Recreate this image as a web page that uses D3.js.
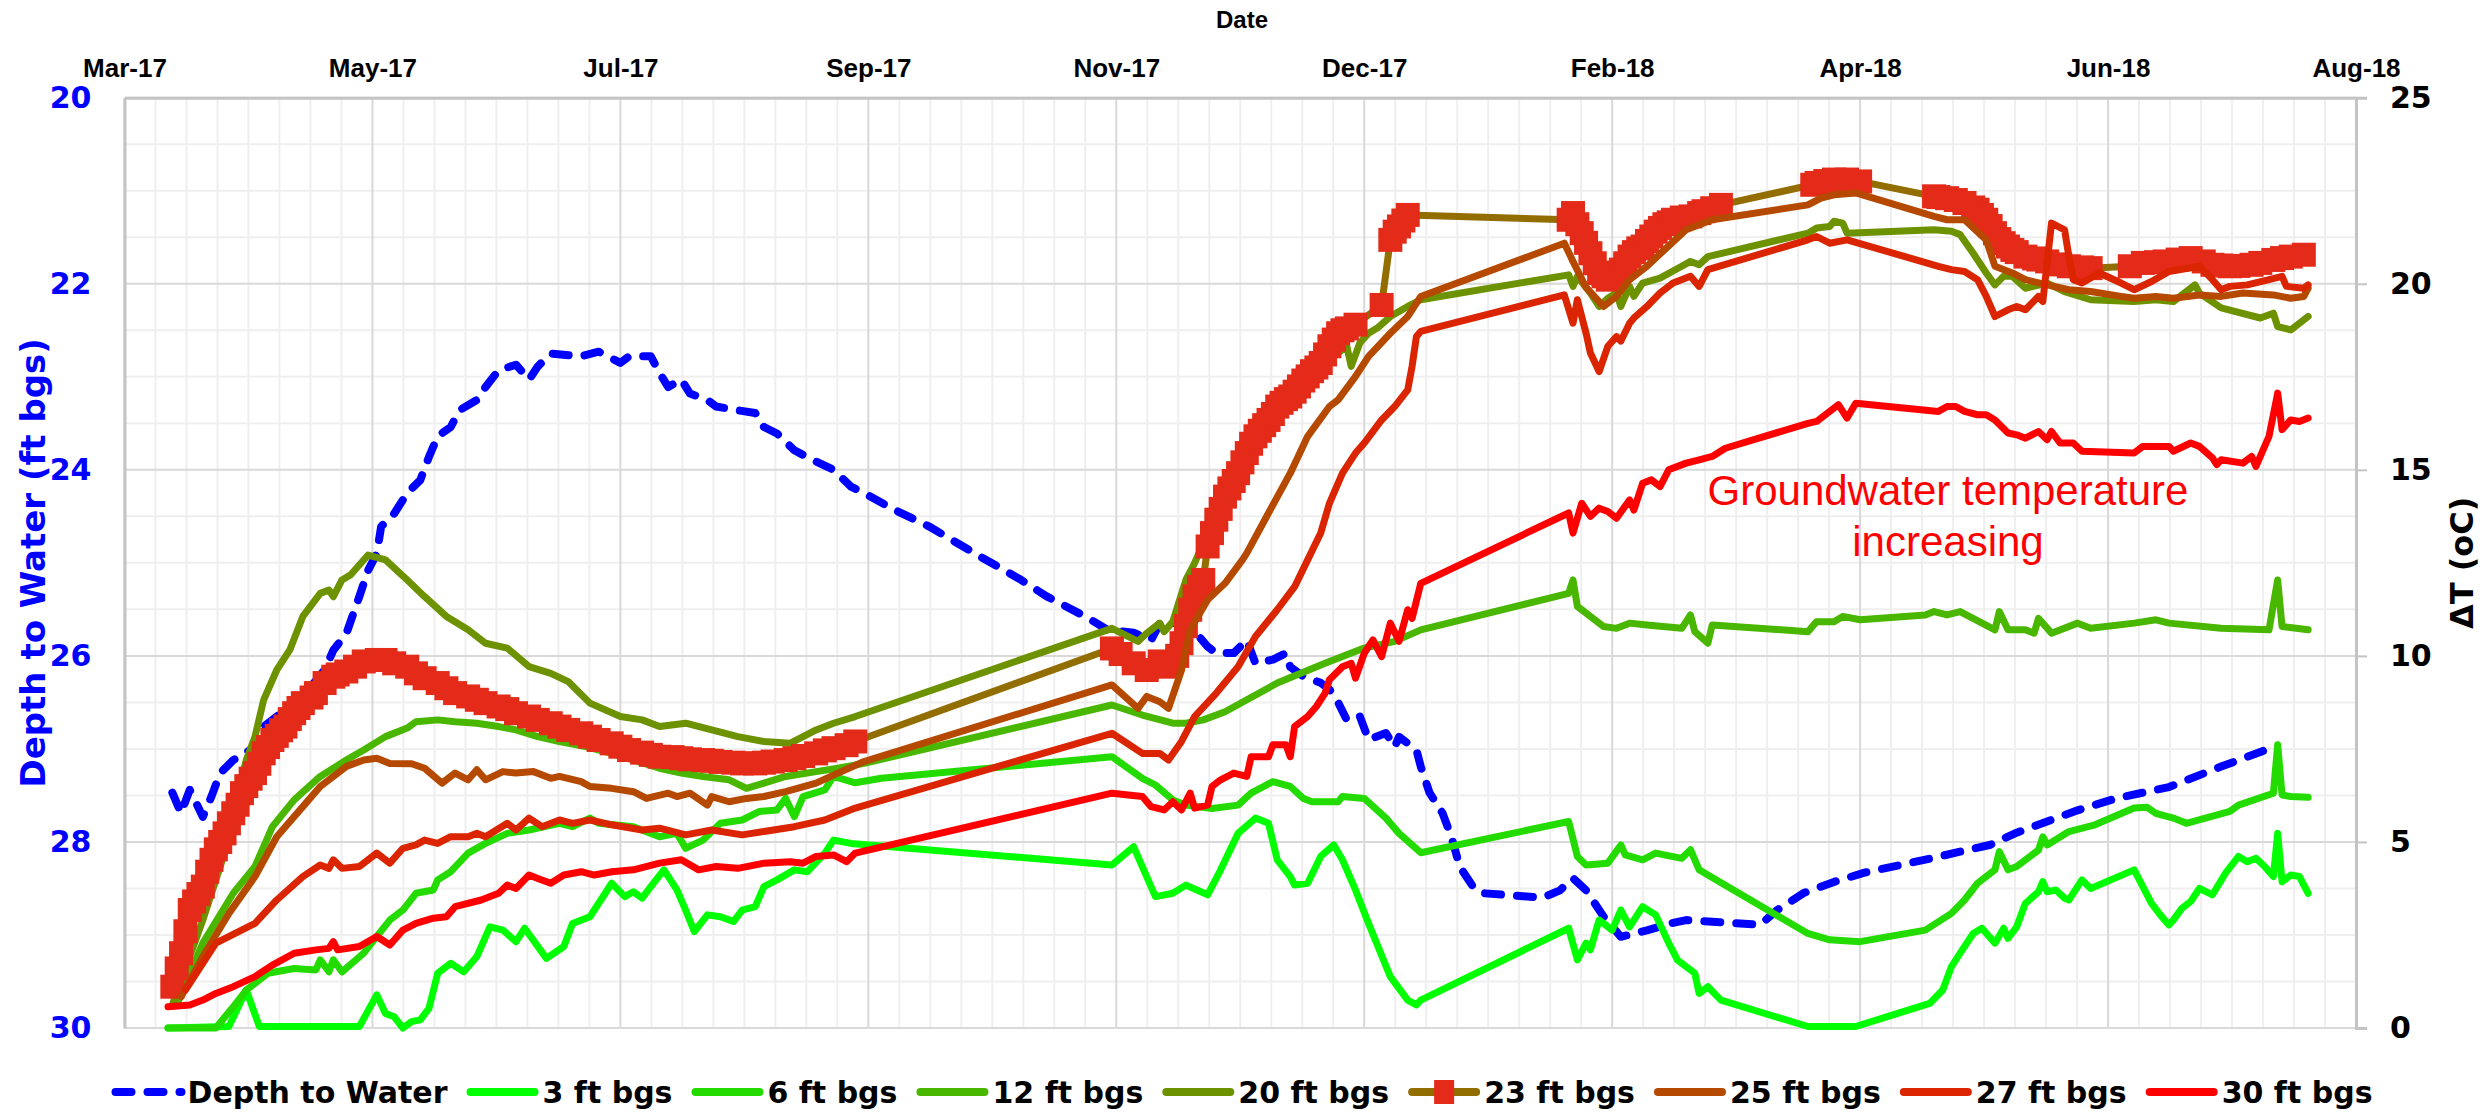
<!DOCTYPE html>
<html>
<head>
<meta charset="utf-8">
<script src="https://cdn.jsdelivr.net/npm/d3@7"></script>
<style>
  body { margin: 0; background: #fff; }
  svg { display: block; }
</style>
</head>
<body>
<svg id="chart" width="2491" height="1114"></svg>
<script>
// ---- data ----
var xTickDates = ["2017-03-18","2017-05-14","2017-07-10","2017-09-05","2017-11-01","2017-12-28","2018-02-23","2018-04-21","2018-06-17","2018-08-13"];
var depthTicks = [20, 22, 24, 26, 28, 30];
var tempTicks = [0, 5, 10, 15, 20, 25];

var depthToWater = [["2017-03-29",27.47],["2017-03-31",27.69],["2017-04-02",27.44],["2017-04-05",27.73],["2017-04-07",27.51],["2017-04-09",27.26],["2017-04-12",27.12],["2017-04-17",26.98],["2017-04-19",26.76],["2017-04-24",26.58],["2017-04-28",26.44],["2017-05-03",26.15],["2017-05-05",25.94],["2017-05-08",25.76],["2017-05-11",25.36],["2017-05-13",25.08],["2017-05-15",24.90],["2017-05-16",24.61],["2017-05-19",24.47],["2017-05-22",24.25],["2017-05-25",24.11],["2017-05-27",23.86],["2017-05-29",23.64],["2017-06-01",23.54],["2017-06-03",23.36],["2017-06-07",23.25],["2017-06-09",23.11],["2017-06-12",22.93],["2017-06-16",22.87],["2017-06-19",23.03],["2017-06-21",22.89],["2017-06-24",22.75],["2017-07-01",22.78],["2017-07-05",22.73],["2017-07-10",22.85],["2017-07-12",22.78],["2017-07-17",22.78],["2017-07-19",22.96],["2017-07-21",23.11],["2017-07-24",23.03],["2017-07-26",23.18],["2017-07-30",23.25],["2017-08-01",23.32],["2017-08-06",23.36],["2017-08-10",23.39],["2017-08-12",23.54],["2017-08-15",23.61],["2017-08-19",23.79],["2017-08-23",23.89],["2017-08-28",24.00],["2017-09-01",24.18],["2017-09-04",24.25],["2017-09-11",24.43],["2017-09-19",24.61],["2017-10-01",24.94],["2017-10-10",25.18],["2017-10-16",25.36],["2017-10-25",25.58],["2017-10-30",25.72],["2017-11-05",25.75],["2017-11-09",25.83],["2017-11-11",25.65],["2017-11-17",25.65],["2017-11-20",25.79],["2017-11-22",25.90],["2017-11-24",25.97],["2017-11-28",25.97],["2017-12-01",25.83],["2017-12-03",26.08],["2017-12-07",26.04],["2017-12-10",25.97],["2017-12-11",26.12],["2017-12-14",26.22],["2017-12-18",26.29],["2017-12-20",26.36],["2017-12-22",26.50],["2017-12-24",26.69],["2017-12-27",26.65],["2017-12-29",26.90],["2018-01-02",26.83],["2018-01-04",26.98],["2018-01-05",26.87],["2018-01-09",27.01],["2018-01-10",27.19],["2018-01-12",27.47],["2018-01-15",27.69],["2018-01-17",27.94],["2018-01-19",28.27],["2018-01-22",28.48],["2018-01-24",28.55],["2018-02-07",28.60],["2018-02-11",28.52],["2018-02-14",28.39],["2018-02-17",28.52],["2018-02-21",28.80],["2018-02-25",29.02],["2018-03-03",28.95],["2018-03-09",28.87],["2018-03-12",28.84],["2018-03-29",28.89],["2018-04-02",28.73],["2018-04-08",28.55],["2018-04-15",28.43],["2018-04-22",28.33],["2018-05-06",28.19],["2018-05-21",28.03],["2018-05-27",27.90],["2018-06-03",27.78],["2018-06-10",27.66],["2018-06-19",27.53],["2018-07-01",27.41],["2018-07-13",27.19],["2018-07-25",26.98]];

var t3ft = [["2017-03-28",0],["2017-04-11",0.04],["2017-04-15",1.02],["2017-04-18",0.04],["2017-05-11",0.04],["2017-05-15",0.89],["2017-05-17",0.39],["2017-05-19",0.30],["2017-05-21",0],["2017-05-23",0.17],["2017-05-25",0.22],["2017-05-27",0.53],["2017-05-29",1.47],["2017-06-01",1.74],["2017-06-04",1.51],["2017-06-07",1.92],["2017-06-10",2.72],["2017-06-13",2.63],["2017-06-16",2.32],["2017-06-18",2.68],["2017-06-23",1.87],["2017-06-27",2.19],["2017-06-29",2.81],["2017-07-03",2.99],["2017-07-08",3.89],["2017-07-11",3.53],["2017-07-13",3.66],["2017-07-15",3.49],["2017-07-17",3.80],["2017-07-20",4.25],["2017-07-23",3.71],["2017-07-25",3.17],["2017-07-27",2.59],["2017-07-30",3.04],["2017-08-02",2.99],["2017-08-05",2.86],["2017-08-07",3.17],["2017-08-10",3.26],["2017-08-12",3.80],["2017-08-15",3.98],["2017-08-19",4.25],["2017-08-22",4.20],["2017-08-26",4.70],["2017-08-28",5.05],["2017-09-01",4.96],["2017-10-31",4.38],["2017-11-05",4.87],["2017-11-10",3.53],["2017-11-14",3.62],["2017-11-17",3.84],["2017-11-22",3.58],["2017-11-25",4.25],["2017-11-29",5.23],["2017-12-03",5.64],["2017-12-06",5.50],["2017-12-08",4.52],["2017-12-11",4.07],["2017-12-12",3.84],["2017-12-15",3.89],["2017-12-18",4.61],["2017-12-21",4.92],["2017-12-23",4.52],["2017-12-26",3.71],["2017-12-29",2.81],["2018-01-03",1.38],["2018-01-07",0.75],["2018-01-09",0.62],["2018-01-10",0.75],["2018-02-13",2.68],["2018-02-15",1.83],["2018-02-17",2.28],["2018-02-18",2.10],["2018-02-20",2.90],["2018-02-23",2.63],["2018-02-25",3.17],["2018-02-27",2.72],["2018-03-02",3.26],["2018-03-05",3.04],["2018-03-08",2.28],["2018-03-10",1.83],["2018-03-14",1.47],["2018-03-15",0.93],["2018-03-17",1.11],["2018-03-20",0.75],["2018-04-09",0.04],["2018-04-20",0.04],["2018-05-07",0.66],["2018-05-10",1.02],["2018-05-12",1.65],["2018-05-14",2.01],["2018-05-17",2.54],["2018-05-19",2.68],["2018-05-22",2.28],["2018-05-24",2.68],["2018-05-25",2.41],["2018-05-27",2.72],["2018-05-29",3.35],["2018-06-01",3.66],["2018-06-02",3.93],["2018-06-03",3.66],["2018-06-05",3.71],["2018-06-07",3.49],["2018-06-08",3.44],["2018-06-11",3.98],["2018-06-13",3.75],["2018-06-23",4.25],["2018-06-27",3.35],["2018-06-29",3.04],["2018-07-01",2.77],["2018-07-02",2.90],["2018-07-04",3.22],["2018-07-06",3.40],["2018-07-08",3.75],["2018-07-11",3.58],["2018-07-14",4.16],["2018-07-17",4.61],["2018-07-19",4.47],["2018-07-21",4.56],["2018-07-23",4.34],["2018-07-25",4.07],["2018-07-26",5.23],["2018-07-27",3.93],["2018-07-29",4.11],["2018-07-31",4.07],["2018-08-02",3.62]];

var t6ft = [["2017-03-28",0],["2017-04-08",0],["2017-04-12",0.57],["2017-04-15",1.02],["2017-04-20",1.47],["2017-04-26",1.60],["2017-05-01",1.56],["2017-05-02",1.83],["2017-05-04",1.51],["2017-05-05",1.83],["2017-05-07",1.51],["2017-05-12",2.01],["2017-05-15",2.46],["2017-05-18",2.90],["2017-05-21",3.17],["2017-05-24",3.62],["2017-05-28",3.71],["2017-05-29",3.98],["2017-06-01",4.20],["2017-06-05",4.70],["2017-06-09",4.96],["2017-06-14",5.23],["2017-06-19",5.32],["2017-06-26",5.50],["2017-06-29",5.41],["2017-07-03",5.64],["2017-07-05",5.50],["2017-07-13",5.41],["2017-07-19",5.14],["2017-07-23",5.23],["2017-07-25",4.83],["2017-07-29",5.05],["2017-08-02",5.50],["2017-08-07",5.59],["2017-08-11",5.82],["2017-08-15",5.86],["2017-08-17",6.17],["2017-08-19",5.68],["2017-08-21",6.22],["2017-08-26",6.40],["2017-08-28",6.76],["2017-09-02",6.59],["2017-09-08",6.71],["2017-10-31",7.29],["2017-11-07",6.71],["2017-11-10",6.53],["2017-11-14",6.13],["2017-11-17",5.99],["2017-11-23",5.90],["2017-11-29",5.99],["2017-12-02",6.31],["2017-12-07",6.62],["2017-12-11",6.49],["2017-12-14",6.17],["2017-12-16",6.08],["2017-12-22",6.08],["2017-12-23",6.22],["2017-12-28",6.17],["2018-01-02",5.64],["2018-01-05",5.23],["2018-01-10",4.71],["2018-02-13",5.55],["2018-02-15",4.61],["2018-02-17",4.38],["2018-02-22",4.43],["2018-02-25",4.92],["2018-02-26",4.65],["2018-03-02",4.52],["2018-03-05",4.70],["2018-03-11",4.56],["2018-03-13",4.79],["2018-03-15",4.25],["2018-03-17",4.11],["2018-04-09",2.54],["2018-04-14",2.37],["2018-04-21",2.32],["2018-05-06",2.63],["2018-05-12",3.08],["2018-05-15",3.44],["2018-05-18",3.89],["2018-05-22",4.25],["2018-05-23",4.74],["2018-05-25",4.25],["2018-05-27",4.34],["2018-06-01",4.78],["2018-06-02",5.14],["2018-06-03",4.92],["2018-06-08",5.28],["2018-06-14",5.46],["2018-06-23",5.91],["2018-06-26",5.93],["2018-06-28",5.77],["2018-07-02",5.64],["2018-07-05",5.50],["2018-07-15",5.82],["2018-07-17",5.99],["2018-07-25",6.31],["2018-07-26",7.61],["2018-07-27",6.26],["2018-07-29",6.22],["2018-08-02",6.20]];

var t12ft = [["2017-03-30",0.62],["2017-04-05",2.28],["2017-04-12",3.62],["2017-04-17",4.34],["2017-04-21",5.41],["2017-04-26",6.13],["2017-05-02",6.76],["2017-05-08",7.20],["2017-05-12",7.47],["2017-05-17",7.83],["2017-05-22",8.06],["2017-05-24",8.23],["2017-05-29",8.28],["2017-06-02",8.23],["2017-06-07",8.19],["2017-06-12",8.10],["2017-06-16",8.01],["2017-06-21",7.83],["2017-06-26",7.70],["2017-07-02",7.56],["2017-07-08",7.38],["2017-07-13",7.20],["2017-07-19",6.98],["2017-07-24",6.85],["2017-07-29",6.76],["2017-08-04",6.67],["2017-08-08",6.44],["2017-08-12",6.58],["2017-08-17",6.76],["2017-08-24",6.89],["2017-08-29",6.98],["2017-09-04",7.11],["2017-10-31",8.68],["2017-11-07",8.41],["2017-11-14",8.19],["2017-11-17",8.19],["2017-11-21",8.28],["2017-11-26",8.50],["2017-12-08",9.27],["2017-12-19",9.80],["2017-12-28",10.21],["2018-01-04",10.39],["2018-01-10",10.70],["2018-02-13",11.68],["2018-02-14",12.04],["2018-02-15",11.33],["2018-02-21",10.79],["2018-02-24",10.74],["2018-02-27",10.88],["2018-03-03",10.83],["2018-03-11",10.74],["2018-03-13",11.10],["2018-03-14",10.65],["2018-03-17",10.34],["2018-03-18",10.83],["2018-04-09",10.65],["2018-04-11",10.92],["2018-04-15",10.92],["2018-04-17",11.06],["2018-04-21",10.97],["2018-05-06",11.10],["2018-05-08",11.19],["2018-05-11",11.10],["2018-05-14",11.19],["2018-05-22",10.70],["2018-05-23",11.19],["2018-05-25",10.70],["2018-05-29",10.70],["2018-05-31",10.61],["2018-06-01",11.01],["2018-06-04",10.61],["2018-06-10",10.88],["2018-06-13",10.74],["2018-06-23",10.88],["2018-06-28",10.97],["2018-07-01",10.88],["2018-07-13",10.74],["2018-07-24",10.70],["2018-07-26",12.04],["2018-07-27",10.79],["2018-08-02",10.70]];

var t20ft = [["2017-03-29",0.62],["2017-04-05",2.90],["2017-04-10",4.70],["2017-04-13",6.31],["2017-04-15",7.20],["2017-04-17",7.83],["2017-04-19",8.82],["2017-04-22",9.62],["2017-04-25",10.16],["2017-04-28",11.06],["2017-05-02",11.68],["2017-05-04",11.77],["2017-05-05",11.59],["2017-05-07",12.04],["2017-05-09",12.18],["2017-05-13",12.71],["2017-05-17",12.58],["2017-05-22",12.04],["2017-05-26",11.59],["2017-05-31",11.06],["2017-06-05",10.70],["2017-06-09",10.34],["2017-06-14",10.21],["2017-06-19",9.71],["2017-06-24",9.53],["2017-06-28",9.31],["2017-07-03",8.73],["2017-07-10",8.37],["2017-07-15",8.28],["2017-07-19",8.10],["2017-07-25",8.19],["2017-07-31",8.01],["2017-08-06",7.83],["2017-08-12",7.70],["2017-08-18",7.65],["2017-08-24",8.01],["2017-08-28",8.19],["2017-09-02",8.37],["2017-10-31",10.74],["2017-11-06",10.39],["2017-11-08",10.61],["2017-11-11",10.88],["2017-11-12",10.65],["2017-11-14",10.92],["2017-11-17",12.04],["2017-11-19",12.49],["2017-11-24",13.84],["2017-11-29",15.18],["2017-12-05",16.52],["2017-12-11",17.24],["2017-12-16",17.60],["2017-12-22",18.14],["2017-12-24",18.32],["2017-12-25",17.78],["2017-12-27",18.41],["2017-12-29",18.67],["2017-12-31",18.81],["2018-01-03",19.12],["2018-01-07",19.39],["2018-01-10",19.57],["2018-02-13",20.24],["2018-02-14",19.93],["2018-02-15",20.20],["2018-02-18",19.75],["2018-02-20",19.39],["2018-02-22",19.61],["2018-02-24",19.75],["2018-02-25",19.39],["2018-02-27",19.93],["2018-02-28",19.66],["2018-03-02",20.02],["2018-03-06",20.15],["2018-03-11",20.47],["2018-03-13",20.60],["2018-03-15",20.51],["2018-03-17",20.73],["2018-04-09",21.36],["2018-04-11",21.50],["2018-04-14",21.54],["2018-04-15",21.68],["2018-04-17",21.63],["2018-04-18",21.36],["2018-05-08",21.45],["2018-05-12",21.41],["2018-05-14",21.32],["2018-05-17",20.82],["2018-05-20",20.29],["2018-05-22",19.97],["2018-05-24",20.20],["2018-05-26",20.20],["2018-05-29",19.88],["2018-06-03",20.02],["2018-06-07",19.79],["2018-06-13",19.57],["2018-06-23",19.52],["2018-06-28",19.57],["2018-07-02",19.52],["2018-07-07",19.97],["2018-07-08",19.75],["2018-07-13",19.35],["2018-07-22",19.08],["2018-07-25",19.21],["2018-07-26",18.85],["2018-07-29",18.76],["2018-08-02",19.12]];

var t23ft = [["2017-03-29",1.11],["2017-03-30",1.60],["2017-03-31",2.01],["2017-04-01",2.60],["2017-04-02",3.17],["2017-04-03",3.40],["2017-04-04",3.60],["2017-04-05",3.80],["2017-04-06",4.20],["2017-04-07",4.52],["2017-04-08",4.80],["2017-04-09",5.00],["2017-04-10",5.23],["2017-04-11",5.50],["2017-04-12",5.77],["2017-04-13",6.00],["2017-04-14",6.31],["2017-04-15",6.50],["2017-04-16",6.70],["2017-04-17",6.85],["2017-04-18",7.10],["2017-04-19",7.38],["2017-04-20",7.55],["2017-04-21",7.74],["2017-04-22",7.85],["2017-04-23",8.00],["2017-04-24",8.10],["2017-04-25",8.30],["2017-04-26",8.46],["2017-04-27",8.60],["2017-04-28",8.73],["2017-04-30",8.88],["2017-05-01",9.00],["2017-05-03",9.27],["2017-05-05",9.44],["2017-05-06",9.50],["2017-05-08",9.58],["2017-05-10",9.71],["2017-05-12",9.85],["2017-05-15",9.89],["2017-05-17",9.89],["2017-05-19",9.80],["2017-05-22",9.71],["2017-05-24",9.53],["2017-05-26",9.40],["2017-05-29",9.27],["2017-05-31",9.13],["2017-06-02",9.00],["2017-06-05",8.91],["2017-06-07",8.82],["2017-06-09",8.73],["2017-06-12",8.64],["2017-06-14",8.57],["2017-06-16",8.46],["2017-06-19",8.37],["2017-06-21",8.28],["2017-06-24",8.19],["2017-06-26",8.10],["2017-06-28",8.01],["2017-07-01",7.92],["2017-07-03",7.83],["2017-07-05",7.74],["2017-07-08",7.65],["2017-07-10",7.56],["2017-07-12",7.47],["2017-07-15",7.40],["2017-07-17",7.34],["2017-07-19",7.29],["2017-07-22",7.28],["2017-07-24",7.25],["2017-07-26",7.22],["2017-07-29",7.20],["2017-07-31",7.18],["2017-08-02",7.15],["2017-08-05",7.13],["2017-08-07",7.11],["2017-08-10",7.11],["2017-08-12",7.13],["2017-08-14",7.16],["2017-08-17",7.20],["2017-08-19",7.25],["2017-08-21",7.31],["2017-08-24",7.38],["2017-08-26",7.46],["2017-08-28",7.52],["2017-08-31",7.60],["2017-09-02",7.70],["2017-10-31",10.20],["2017-11-02",10.05],["2017-11-05",9.80],["2017-11-08",9.62],["2017-11-11",9.85],["2017-11-13",9.71],["2017-11-15",10.00],["2017-11-16",10.34],["2017-11-17",10.80],["2017-11-18",11.24],["2017-11-19",11.60],["2017-11-20",11.85],["2017-11-21",12.04],["2017-11-22",12.94],["2017-11-23",13.30],["2017-11-24",13.66],["2017-11-25",13.95],["2017-11-26",14.28],["2017-11-27",14.50],["2017-11-28",14.70],["2017-11-29",14.91],["2017-11-30",15.20],["2017-12-01",15.45],["2017-12-02",15.70],["2017-12-03",15.90],["2017-12-04",16.05],["2017-12-05",16.20],["2017-12-06",16.34],["2017-12-07",16.50],["2017-12-08",16.70],["2017-12-09",16.80],["2017-12-10",16.90],["2017-12-11",16.97],["2017-12-12",17.10],["2017-12-13",17.24],["2017-12-14",17.40],["2017-12-15",17.51],["2017-12-16",17.65],["2017-12-17",17.75],["2017-12-18",17.87],["2017-12-19",18.10],["2017-12-20",18.32],["2017-12-21",18.50],["2017-12-22",18.67],["2017-12-23",18.75],["2017-12-24",18.80],["2017-12-26",18.90],["2018-01-01",19.43],["2018-01-03",21.18],["2018-01-04",21.40],["2018-01-05",21.54],["2018-01-06",21.70],["2018-01-07",21.85],["2018-02-13",21.72],["2018-02-14",21.90],["2018-02-15",21.60],["2018-02-16",21.36],["2018-02-17",21.10],["2018-02-18",20.82],["2018-02-19",20.55],["2018-02-20",20.29],["2018-02-21",20.20],["2018-02-22",20.11],["2018-02-23",20.20],["2018-02-24",20.30],["2018-02-25",20.38],["2018-02-26",20.55],["2018-02-27",20.73],["2018-02-28",20.85],["2018-03-01",20.95],["2018-03-02",21.00],["2018-03-03",21.15],["2018-03-04",21.27],["2018-03-05",21.40],["2018-03-06",21.50],["2018-03-07",21.60],["2018-03-08",21.65],["2018-03-09",21.72],["2018-03-11",21.78],["2018-03-13",21.81],["2018-03-15",21.90],["2018-03-16",21.95],["2018-03-18",22.03],["2018-03-20",22.12],["2018-04-10",22.66],["2018-04-11",22.71],["2018-04-13",22.76],["2018-04-15",22.80],["2018-04-18",22.80],["2018-04-21",22.75],["2018-05-08",22.35],["2018-05-09",22.33],["2018-05-11",22.30],["2018-05-13",22.25],["2018-05-15",22.17],["2018-05-17",22.05],["2018-05-18",21.99],["2018-05-19",21.85],["2018-05-20",21.72],["2018-05-21",21.55],["2018-05-22",21.36],["2018-05-23",21.20],["2018-05-24",21.09],["2018-05-25",21.00],["2018-05-26",20.91],["2018-05-27",20.85],["2018-05-29",20.73],["2018-05-31",20.68],["2018-06-01",20.65],["2018-06-03",20.60],["2018-06-06",20.52],["2018-06-08",20.47],["2018-06-11",20.44],["2018-06-13",20.42],["2018-06-22",20.47],["2018-06-25",20.56],["2018-06-28",20.58],["2018-06-30",20.60],["2018-07-03",20.65],["2018-07-06",20.69],["2018-07-09",20.60],["2018-07-11",20.51],["2018-07-13",20.49],["2018-07-15",20.47],["2018-07-17",20.48],["2018-07-20",20.51],["2018-07-22",20.56],["2018-07-25",20.64],["2018-07-27",20.69],["2018-07-29",20.73],["2018-08-01",20.78]];

var t25ft = [["2017-03-31",0.84],["2017-04-05",1.92],["2017-04-11",3.08],["2017-04-17",4.07],["2017-04-22",5.14],["2017-04-28",5.95],["2017-05-02",6.49],["2017-05-08",7.03],["2017-05-12",7.20],["2017-05-15",7.25],["2017-05-18",7.11],["2017-05-23",7.10],["2017-05-26",6.98],["2017-05-30",6.58],["2017-06-02",6.85],["2017-06-05",6.67],["2017-06-07",6.94],["2017-06-09",6.67],["2017-06-13",6.89],["2017-06-16",6.85],["2017-06-20",6.89],["2017-06-24",6.71],["2017-06-26",6.76],["2017-07-01",6.62],["2017-07-03",6.49],["2017-07-08",6.44],["2017-07-13",6.35],["2017-07-16",6.17],["2017-07-21",6.31],["2017-07-23",6.22],["2017-07-26",6.31],["2017-07-30",5.99],["2017-07-31",6.22],["2017-08-04",6.08],["2017-08-08",6.17],["2017-08-12",6.22],["2017-08-17",6.35],["2017-08-24",6.58],["2017-08-29",6.85],["2017-09-04",7.16],["2017-10-31",9.22],["2017-11-06",8.59],["2017-11-08",8.91],["2017-11-11",8.77],["2017-11-13",8.59],["2017-11-16",9.62],["2017-11-18",10.70],["2017-11-22",11.51],["2017-11-26",11.95],["2017-11-30",12.58],["2017-12-01",12.76],["2017-12-06",13.84],["2017-12-11",14.91],["2017-12-15",15.90],["2017-12-20",16.70],["2017-12-22",16.88],["2017-12-26",17.51],["2017-12-29",18.05],["2018-01-03",18.67],["2018-01-07",19.12],["2018-01-10",19.66],["2018-02-12",21.09],["2018-02-14",20.60],["2018-02-17",19.90],["2018-02-21",19.39],["2018-02-24",19.66],["2018-02-27",20.11],["2018-03-03",20.47],["2018-03-07",20.91],["2018-03-12",21.45],["2018-03-18",21.72],["2018-04-09",22.12],["2018-04-12",22.30],["2018-04-15",22.39],["2018-04-20",22.44],["2018-05-08",21.81],["2018-05-11",21.72],["2018-05-15",21.72],["2018-05-20",21.18],["2018-05-22",20.47],["2018-05-26",20.29],["2018-05-29",20.11],["2018-06-03",19.97],["2018-06-08",19.84],["2018-06-13",19.79],["2018-06-20",19.66],["2018-06-23",19.61],["2018-06-28",19.66],["2018-07-02",19.61],["2018-07-08",19.70],["2018-07-13",19.66],["2018-07-18",19.75],["2018-07-25",19.70],["2018-07-29",19.61],["2018-08-01",19.66],["2018-08-02",19.88]];

var t27ft = [["2017-04-01",1.02],["2017-04-08",2.28],["2017-04-17",2.81],["2017-04-22",3.44],["2017-04-28",4.07],["2017-05-02",4.38],["2017-05-04",4.29],["2017-05-05",4.52],["2017-05-07",4.29],["2017-05-11",4.34],["2017-05-15",4.70],["2017-05-18",4.43],["2017-05-21",4.83],["2017-05-24",4.92],["2017-05-26",5.05],["2017-05-29",4.96],["2017-06-01",5.14],["2017-06-05",5.14],["2017-06-07",5.23],["2017-06-09",5.14],["2017-06-14",5.50],["2017-06-16",5.32],["2017-06-19",5.64],["2017-06-22",5.41],["2017-06-26",5.59],["2017-06-29",5.50],["2017-07-03",5.59],["2017-07-08",5.46],["2017-07-15",5.32],["2017-07-19",5.37],["2017-07-25",5.19],["2017-07-31",5.32],["2017-08-07",5.19],["2017-08-12",5.28],["2017-08-19",5.41],["2017-08-26",5.59],["2017-09-02",5.91],["2017-10-31",7.92],["2017-11-07",7.38],["2017-11-11",7.38],["2017-11-13",7.20],["2017-11-16",7.70],["2017-11-19",8.37],["2017-11-24",9.00],["2017-11-29",9.71],["2017-12-03",10.52],["2017-12-08",11.24],["2017-12-12",11.86],["2017-12-15",12.58],["2017-12-18",13.30],["2017-12-20",14.10],["2017-12-23",14.91],["2017-12-26",15.45],["2017-12-28",15.72],["2018-01-01",16.34],["2018-01-04",16.70],["2018-01-07",17.15],["2018-01-08",17.78],["2018-01-09",18.58],["2018-01-10",18.72],["2018-02-12",19.70],["2018-02-14",18.94],["2018-02-15",19.57],["2018-02-17",18.67],["2018-02-18",18.14],["2018-02-20",17.64],["2018-02-22",18.32],["2018-02-24",18.58],["2018-02-25",18.46],["2018-02-27",18.94],["2018-02-28",19.08],["2018-03-03",19.39],["2018-03-06",19.75],["2018-03-09",20.02],["2018-03-13",20.20],["2018-03-15",19.93],["2018-03-17",20.38],["2018-04-09",21.18],["2018-04-11",21.27],["2018-04-14",21.09],["2018-04-18",21.18],["2018-05-09",20.47],["2018-05-12",20.38],["2018-05-15",20.33],["2018-05-18",20.11],["2018-05-20",19.66],["2018-05-22",19.12],["2018-05-25",19.30],["2018-05-27",19.39],["2018-05-29",19.30],["2018-06-01",19.66],["2018-06-02",19.52],["2018-06-04",21.63],["2018-06-07",21.45],["2018-06-08",20.73],["2018-06-09",20.11],["2018-06-11",20.02],["2018-06-15",20.29],["2018-06-20",20.02],["2018-06-23",19.84],["2018-06-27",20.06],["2018-07-01",20.33],["2018-07-08",20.47],["2018-07-11",20.11],["2018-07-13",19.84],["2018-07-15",19.93],["2018-07-19",19.97],["2018-07-24",20.11],["2018-07-27",20.20],["2018-07-28",19.93],["2018-08-01",19.88],["2018-08-02",19.97]];

var t30ft = [["2017-03-28",0.57],["2017-04-02",0.62],["2017-04-05",0.75],["2017-04-08",0.93],["2017-04-12",1.11],["2017-04-17",1.38],["2017-04-21",1.69],["2017-04-26",2.01],["2017-05-01",2.10],["2017-05-04",2.14],["2017-05-05",2.32],["2017-05-06",2.10],["2017-05-11",2.19],["2017-05-15",2.46],["2017-05-18",2.23],["2017-05-21",2.63],["2017-05-24",2.81],["2017-05-28",2.95],["2017-05-31",2.99],["2017-06-02",3.26],["2017-06-08",3.44],["2017-06-12",3.62],["2017-06-14",3.84],["2017-06-16",3.75],["2017-06-19",4.11],["2017-06-21",4.02],["2017-06-24",3.89],["2017-06-27",4.11],["2017-07-01",4.20],["2017-07-04",4.11],["2017-07-08",4.20],["2017-07-13",4.25],["2017-07-19",4.43],["2017-07-24",4.52],["2017-07-28",4.25],["2017-08-01",4.34],["2017-08-06",4.29],["2017-08-12",4.43],["2017-08-18",4.47],["2017-08-21",4.43],["2017-08-24",4.61],["2017-08-28",4.65],["2017-08-31",4.47],["2017-09-02",4.70],["2017-10-31",6.31],["2017-11-07",6.22],["2017-11-09",5.95],["2017-11-12",5.86],["2017-11-14",6.08],["2017-11-16",5.86],["2017-11-18",6.31],["2017-11-19",5.91],["2017-11-22",5.99],["2017-11-23",6.49],["2017-11-25",6.67],["2017-11-28",6.85],["2017-12-01",6.76],["2017-12-02",7.29],["2017-12-06",7.29],["2017-12-07",7.61],["2017-12-10",7.61],["2017-12-11",7.29],["2017-12-12",8.10],["2017-12-15",8.37],["2017-12-17",8.64],["2017-12-19",9.00],["2017-12-20",9.36],["2017-12-23",9.71],["2017-12-25",9.80],["2017-12-26",9.40],["2017-12-28",10.07],["2017-12-30",10.43],["2018-01-01",9.98],["2018-01-03",10.88],["2018-01-05",10.39],["2018-01-07",11.24],["2018-01-08",11.01],["2018-01-10",11.95],["2018-02-13",13.84],["2018-02-14",13.30],["2018-02-16",14.10],["2018-02-18",13.75],["2018-02-20",13.97],["2018-02-22",13.88],["2018-02-24",13.70],["2018-02-27",14.19],["2018-02-28",13.92],["2018-03-02",14.64],["2018-03-04",14.73],["2018-03-06",14.55],["2018-03-08",15.00],["2018-03-12",15.18],["2018-03-15",15.27],["2018-03-18",15.36],["2018-03-21",15.58],["2018-04-09",16.25],["2018-04-11",16.30],["2018-04-16",16.75],["2018-04-18",16.39],["2018-04-20",16.79],["2018-05-09",16.57],["2018-05-11",16.70],["2018-05-13",16.70],["2018-05-15",16.57],["2018-05-18",16.48],["2018-05-20",16.48],["2018-05-22",16.34],["2018-05-25",15.99],["2018-05-27",15.94],["2018-05-29",15.85],["2018-06-01",16.03],["2018-06-03",15.81],["2018-06-04",16.03],["2018-06-06",15.72],["2018-06-09",15.72],["2018-06-11",15.50],["2018-06-23",15.45],["2018-06-25",15.63],["2018-07-01",15.63],["2018-07-02",15.50],["2018-07-06",15.72],["2018-07-08",15.63],["2018-07-11",15.32],["2018-07-12",15.14],["2018-07-13",15.27],["2018-07-18",15.18],["2018-07-20",15.36],["2018-07-21",15.09],["2018-07-23",15.63],["2018-07-24",15.90],["2018-07-26",17.06],["2018-07-27",16.08],["2018-07-29",16.34],["2018-07-31",16.30],["2018-08-02",16.39]];

var seriesNames = ["Depth to Water","3 ft bgs","6 ft bgs","12 ft bgs","20 ft bgs","23 ft bgs","25 ft bgs","27 ft bgs","30 ft bgs"];

// ---- layout / style ----
var svg = d3.select("#chart");
var W = 2491, H = 1114;
var box = { left: 124.5, right: 2356, top: 97.7, bottom: 1028 };
var boldWide = "'DejaVu Sans', sans-serif";
var arial = "'Liberation Sans', Arial, sans-serif";
var colors = ["#0000FF","#00FF00","#24DB00","#49B600","#6D9200","#926D00","#B64900","#DB2400","#FF0000"];
var markerColor = "#E42A18";

svg.append("rect").attr("width", W).attr("height", H).attr("fill", "#fff");

var parse = d3.timeParse("%Y-%m-%d");
var tickDates = xTickDates.map(parse);
var x = d3.scaleTime().domain([tickDates[0], tickDates[tickDates.length - 1]]).range([box.left, box.right]);
var yDepth = d3.scaleLinear().domain([20, 30]).range([box.top, box.bottom]);
var yTemp = d3.scaleLinear().domain([0, 25]).range([box.bottom, box.top]);

function rows(a) { return a.map(function(d) { return { date: parse(d[0]), v: d[1] }; }); }

// grid
var grid = svg.append("g");
var minorX = [];
for (var i = 0; i < tickDates.length - 1; i++) {
  var x0 = x(tickDates[i]), x1 = x(tickDates[i + 1]);
  for (var k = 1; k < 8; k++) minorX.push(x0 + (x1 - x0) * k / 8);
}
var minorY = d3.range(20.5, 30, 0.5).filter(function(v) { return v % 2 !== 0; });
grid.selectAll(".mx").data(minorX).enter().append("line")
  .attr("x1", function(d) { return d; }).attr("x2", function(d) { return d; })
  .attr("y1", box.top).attr("y2", box.bottom).attr("stroke", "#EFEFEF").attr("stroke-width", 2);
grid.selectAll(".my").data(minorY).enter().append("line")
  .attr("x1", box.left).attr("x2", box.right)
  .attr("y1", function(d) { return yDepth(d); }).attr("y2", function(d) { return yDepth(d); })
  .attr("stroke", "#EFEFEF").attr("stroke-width", 2);
grid.selectAll(".Mx").data(tickDates).enter().append("line")
  .attr("x1", function(d) { return x(d); }).attr("x2", function(d) { return x(d); })
  .attr("y1", box.top).attr("y2", box.bottom).attr("stroke", "#D9D9D9").attr("stroke-width", 2);
grid.selectAll(".My").data(depthTicks).enter().append("line")
  .attr("x1", box.left).attr("x2", box.right)
  .attr("y1", function(d) { return yDepth(d); }).attr("y2", function(d) { return yDepth(d); })
  .attr("stroke", "#D9D9D9").attr("stroke-width", 2);

// axes
var topAxis = svg.append("g").attr("transform", "translate(0," + box.top + ")")
  .call(d3.axisTop(x).tickValues(tickDates).tickFormat(d3.timeFormat("%b-%y")).tickSize(0).tickPadding(21));
topAxis.select(".domain").attr("stroke", "#C4C4C4").attr("stroke-width", 3);
topAxis.selectAll("text").attr("font-family", arial).attr("font-weight", "bold").attr("font-size", 26).attr("fill", "#000");

var leftAxis = svg.append("g").attr("transform", "translate(" + box.left + ",0)")
  .call(d3.axisLeft(yDepth).tickValues(depthTicks).tickSize(0).tickPadding(33));
leftAxis.select(".domain").attr("stroke", "#C4C4C4").attr("stroke-width", 3);
leftAxis.selectAll("text").attr("font-family", boldWide).attr("font-weight", "bold").attr("font-size", 30).attr("fill", "#0000FF");

var rightAxis = svg.append("g").attr("transform", "translate(" + box.right + ",0)")
  .call(d3.axisRight(yTemp).tickValues(tempTicks).tickSize(11).tickPadding(23));
rightAxis.select(".domain").attr("stroke", "#C4C4C4").attr("stroke-width", 3);
rightAxis.selectAll(".tick line").attr("stroke", "#C4C4C4").attr("stroke-width", 2);
rightAxis.selectAll("text").attr("font-family", boldWide).attr("font-weight", "bold").attr("font-size", 30).attr("fill", "#000");

// titles
svg.append("text").attr("x", 1242).attr("y", 28).attr("text-anchor", "middle")
  .attr("font-family", arial).attr("font-weight", "bold").attr("font-size", 24).text("Date");
svg.append("text").attr("transform", "translate(45," + ((box.top + box.bottom) / 2) + ") rotate(-90)")
  .attr("text-anchor", "middle").attr("font-family", boldWide).attr("font-weight", "bold")
  .attr("font-size", 34).attr("fill", "#0000FF").text("Depth to Water (ft bgs)");
svg.append("text").attr("transform", "translate(2473," + ((box.top + box.bottom) / 2) + ") rotate(-90)")
  .attr("text-anchor", "middle").attr("font-family", boldWide).attr("font-weight", "bold")
  .attr("font-size", 32).attr("fill", "#000").text("\u0394T (oC)");

// series
var plot = svg.append("g");
var lineDepth = d3.line().x(function(d) { return x(d.date); }).y(function(d) { return yDepth(d.v); });
var lineTemp = d3.line().x(function(d) { return x(d.date); }).y(function(d) { return yTemp(d.v); });

plot.append("path").datum(rows(depthToWater)).attr("d", lineDepth)
  .attr("fill", "none").attr("stroke", colors[0]).attr("stroke-width", 8)
  .attr("stroke-dasharray", "16,16").attr("stroke-linecap", "round").attr("stroke-linejoin", "round");

var tempSeries = [t3ft, t6ft, t12ft, t20ft, t23ft, t25ft, t27ft, t30ft];
tempSeries.forEach(function(s, i) {
  var data = rows(s);
  plot.append("path").datum(data).attr("d", lineTemp)
    .attr("fill", "none").attr("stroke", colors[i + 1]).attr("stroke-width", 7)
    .attr("stroke-linecap", "round").attr("stroke-linejoin", "round");
  if (s === t23ft) {
    plot.append("g").selectAll("rect").data(data).enter().append("rect")
      .attr("x", function(d) { return x(d.date) - 12; })
      .attr("y", function(d) { return yTemp(d.v) - 12; })
      .attr("width", 24).attr("height", 24).attr("fill", markerColor);
  }
});

// annotation
var note = svg.append("text").attr("text-anchor", "middle").attr("font-family", arial)
  .attr("font-size", 42).attr("fill", "#FF0000");
note.append("tspan").attr("x", 1948).attr("y", 505).text("Groundwater temperature");
note.append("tspan").attr("x", 1948).attr("y", 556).text("increasing");

// legend
var legend = svg.append("g");
var ly = 1092, sample = 72;
var items = [];
seriesNames.forEach(function(name, i) {
  var g = legend.append("g");
  var ln = g.append("line").attr("y1", ly).attr("y2", ly)
    .attr("stroke", colors[i]).attr("stroke-width", 8).attr("stroke-linecap", "round");
  if (i === 0) ln.attr("stroke-dasharray", "16,16").attr("x1", 4).attr("x2", sample - 2);
  else ln.attr("x1", 4).attr("x2", sample - 4);
  if (i === 5) {
    g.append("rect").attr("x", sample / 2 - 10).attr("y", ly - 12).attr("width", 20).attr("height", 24).attr("fill", markerColor);
  }
  var t = g.append("text").attr("x", sample + 4).attr("y", 1103)
    .attr("font-family", boldWide).attr("font-weight", "bold").attr("font-size", 30).text(name);
  var w = sample + 4 + t.node().getComputedTextLength();
  items.push({ g: g, w: w });
});
var gap = 19;
var total = d3.sum(items, function(d) { return d.w; }) + gap * (items.length - 1);
var cursor = 1242 - total / 2;
items.forEach(function(it) {
  it.g.attr("transform", "translate(" + cursor + ",0)");
  cursor += it.w + gap;
});
</script>
</body>
</html>
